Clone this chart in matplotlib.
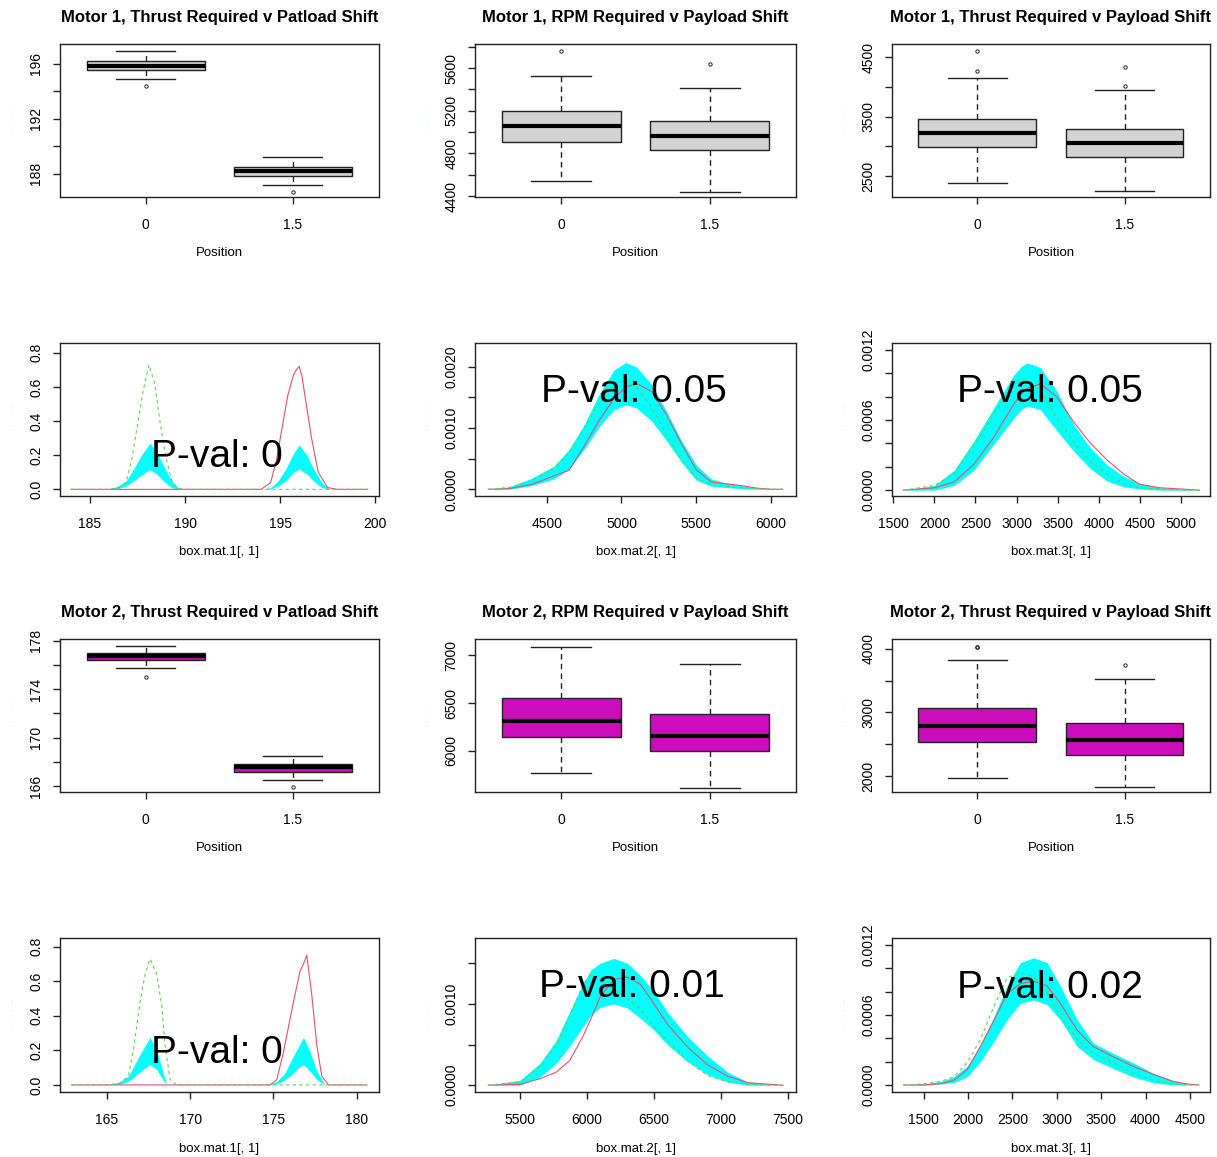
import numpy as np
import matplotlib.pyplot as plt

plt.rcParams['font.family'] = ['Liberation Sans', 'DejaVu Sans']

W, H = 1217, 1157

# boxplot summaries per position (0, 1.5): [whisker low, Q1, median, Q3, whisker high]
m1_thrust = [[194.93, 195.54, 195.88, 196.20, 196.95], [187.20, 187.81, 188.17, 188.49, 189.22]]
m1_thrust_out = [[194.40], [186.66]]
m1_rpm = [[4541, 4906, 5058, 5200, 5527], [4441, 4830, 4966, 5106, 5409]]
m1_rpm_out = [[5757], [5639]]
m1_thrust3 = [[2377, 2983, 3231, 3460, 4157], [2239, 2823, 3052, 3288, 3944]]
m1_thrust3_out = [[4269, 4601], [4024, 4332]]
m2_thrust = [[175.76, 176.37, 176.70, 176.99, 177.60], [166.50, 167.17, 167.53, 167.81, 168.45]]
m2_thrust_out = [[175.0], [165.9]]
m2_rpm = [[5767, 6148, 6315, 6549, 7090], [5616, 6000, 6152, 6390, 6910]]
m2_rpm_out = [[], []]
m2_thrust3 = [[1973, 2528, 2780, 3068, 3827], [1822, 2326, 2564, 2841, 3534]]
m2_thrust3_out = [[4031, 4036], [3740]]

positions = ['0', '1.5']

# density estimates, motor 1 thrust
d11_red_x = [184.0, 194.0, 194.5, 194.8, 195.1, 195.4, 195.7, 195.85, 196.0, 196.15, 196.3, 196.65, 197.0, 197.5, 198.0, 199.6]
d11_red_y = [0, 0, 0.04, 0.17, 0.36, 0.55, 0.67, 0.70, 0.72, 0.66, 0.55, 0.30, 0.10, 0.01, 0, 0]
d11_grn_x = [184.0, 186.0, 186.5, 186.9, 187.2, 187.5, 187.8, 188.1, 188.4, 188.7, 189.0, 189.3, 189.6, 190.0, 199.6]
d11_grn_y = [0, 0, 0.01, 0.04, 0.18, 0.38, 0.58, 0.73, 0.62, 0.38, 0.18, 0.05, 0.005, 0, 0]
d11_band_x = [184.0, 186.0, 186.5, 186.9, 187.3, 187.7, 188.15, 188.5, 188.9, 189.3, 189.7,
              194.0, 194.5, 194.9, 195.3, 195.7, 196.0, 196.4, 196.8, 197.2, 197.6, 199.6]
d11_band_hi = [0, 0, 0.02, 0.05, 0.12, 0.20, 0.27, 0.22, 0.13, 0.05, 0,
               0, 0.01, 0.05, 0.12, 0.21, 0.26, 0.20, 0.11, 0.04, 0, 0]
d11_band_lo = [0, 0, 0.005, 0.02, 0.05, 0.085, 0.115, 0.09, 0.045, 0.01, 0,
               0, 0.003, 0.02, 0.05, 0.10, 0.12, 0.09, 0.045, 0.01, 0, 0]

# motor 1 rpm
d12_x = [4110, 4250, 4400, 4550, 4650, 4750, 4850, 4950, 5030, 5100, 5200, 5300, 5400, 5500, 5600, 5700, 5800, 5900, 6000, 6078]
d12_red = [0, 0.00001, 0.00008, 0.00022, 0.00031, 0.0007, 0.00112, 0.00148, 0.00167, 0.00173, 0.00160, 0.00122,
           0.00075, 0.00032, 0.00012, 0.00009, 0.00006, 0.00002, 0, 0]
d12_grn = [0, 0.00003, 0.00014, 0.00035, 0.0006, 0.0010, 0.00140, 0.00173, 0.00178, 0.00168, 0.00135, 0.00090,
           0.00048, 0.00018, 0.00008, 0.00005, 0.00003, 0.00001, 0, 0]
d12_hi = [0, 0.00004, 0.00018, 0.00038, 0.00065, 0.00105, 0.00155, 0.00195, 0.00207, 0.00200, 0.00172, 0.00128,
          0.00080, 0.00040, 0.00017, 0.00010, 0.00006, 0.00002, 0, 0]
d12_lo = [0, 0, 0.00006, 0.00017, 0.00033, 0.00065, 0.00102, 0.00130, 0.00138, 0.00133, 0.00112, 0.00080,
          0.00045, 0.00015, 0.00005, 0.00003, 0.00001, 0, 0, 0]

# motor 1 thrust (third column)
d13_x = [1621, 2000, 2240, 2480, 2720, 2970, 3060, 3130, 3290, 3490, 3690, 3890, 4100, 4300, 4500, 4750, 5000, 5226]
d13_red = [0, 0.00002, 0.00007, 0.00022, 0.00045, 0.00074, 0.00082, 0.00087, 0.00091, 0.00080, 0.00059, 0.00041,
           0.00026, 0.00014, 0.00005, 0.00002, 0.00001, 0]
d13_grn = [0, 0.00004, 0.00014, 0.00037, 0.00065, 0.00091, 0.00095, 0.00094, 0.00085, 0.00062, 0.00042, 0.00025,
           0.00014, 0.00006, 0.00002, 0.00001, 0, 0]
d13_hi = [0, 0.00004, 0.00017, 0.00042, 0.00070, 0.00099, 0.00106, 0.00109, 0.00105, 0.00085, 0.00057, 0.00037,
          0.00022, 0.00012, 0.00006, 0.00002, 0.00001, 0]
d13_lo = [0, 0, 0.00004, 0.00017, 0.00039, 0.00062, 0.00069, 0.00072, 0.00069, 0.00051, 0.00034, 0.00019,
          0.00008, 0.00003, 0.00001, 0, 0, 0]

# motor 2 thrust
d21_red_x = [162.9, 174.8, 175.2, 175.6, 176.2, 176.6, 176.8, 177.0, 177.3, 177.6, 177.9, 178.3, 180.6]
d21_red_y = [0, 0, 0.03, 0.19, 0.48, 0.66, 0.70, 0.75, 0.52, 0.23, 0.05, 0, 0]
d21_grn_x = [162.9, 165.0, 165.8, 166.3, 166.6, 167.0, 167.3, 167.6, 168.0, 168.3, 168.5, 168.8, 169.2, 180.6]
d21_grn_y = [0, 0, 0.01, 0.05, 0.2, 0.48, 0.64, 0.73, 0.64, 0.46, 0.23, 0.03, 0, 0]
d21_band_x = [162.9, 165.2, 165.8, 166.3, 166.8, 167.2, 167.6, 168.0, 168.3, 168.6,
              174.6, 175.2, 175.7, 176.1, 176.5, 176.8, 177.2, 177.6, 178.1, 180.6]
d21_band_hi = [0, 0, 0.02, 0.05, 0.14, 0.21, 0.275, 0.20, 0.10, 0,
               0, 0.02, 0.07, 0.15, 0.22, 0.275, 0.19, 0.08, 0, 0]
d21_band_lo = [0, 0, 0.005, 0.02, 0.06, 0.09, 0.118, 0.09, 0.04, 0,
               0, 0.005, 0.03, 0.06, 0.10, 0.118, 0.08, 0.03, 0, 0]

# motor 2 rpm
d22_x = [5263, 5500, 5650, 5770, 5870, 5970, 6030, 6100, 6200, 6300, 6400, 6500, 6600, 6750, 6900, 7050, 7200, 7370, 7462]
d22_red = [0, 0.00001, 0.00008, 0.00016, 0.00030, 0.00060, 0.00082, 0.00109, 0.00130, 0.00133, 0.00124, 0.00100,
           0.00075, 0.00047, 0.00025, 0.00011, 0.00003, 0.00001, 0]
d22_grn = [0, 0.00004, 0.00023, 0.00049, 0.00084, 0.00124, 0.00137, 0.00128, 0.00118, 0.00106, 0.00094, 0.00072,
           0.00055, 0.00030, 0.00012, 0.00004, 0.00001, 0, 0]
d22_hi = [0, 0.00006, 0.00027, 0.00055, 0.00090, 0.00125, 0.00142, 0.00150, 0.00156, 0.00150, 0.00135, 0.00115,
          0.00090, 0.00060, 0.00036, 0.00016, 0.00004, 0.00001, 0]
d22_lo = [0, 0, 0.00010, 0.00027, 0.00048, 0.00072, 0.00086, 0.00096, 0.00100, 0.00095, 0.00082, 0.00068,
          0.00050, 0.00029, 0.00013, 0.00004, 0, 0, 0]

# motor 2 thrust (third column)
d23_x = [1275, 1500, 1690, 1840, 1990, 2140, 2290, 2440, 2590, 2740, 2890, 3040, 3230, 3410, 3640, 3860, 4090, 4310, 4460, 4600]
d23_red = [0, 0, 0.00001, 0.00004, 0.00013, 0.00033, 0.00055, 0.00078, 0.00087, 0.00089, 0.00085, 0.00070,
           0.00047, 0.00033, 0.00024, 0.00016, 0.00009, 0.00003, 0.00001, 0]
d23_grn = [0, 0.00001, 0.00003, 0.00007, 0.00019, 0.00039, 0.00067, 0.00092, 0.00096, 0.00093, 0.00079, 0.00059,
           0.00039, 0.00027, 0.00019, 0.00010, 0.00004, 0.00001, 0, 0]
d23_hi = [0, 0.00001, 0.00003, 0.00007, 0.00016, 0.00034, 0.00058, 0.00085, 0.00105, 0.00109, 0.00105, 0.00085,
          0.00056, 0.00036, 0.00027, 0.00019, 0.00010, 0.00004, 0.00001, 0]
d23_lo = [0, 0, 0.00001, 0.00002, 0.00007, 0.00020, 0.00037, 0.00056, 0.00070, 0.00073, 0.00069, 0.00056,
          0.00033, 0.00022, 0.00014, 0.00007, 0.00002, 0, 0, 0]

EDGE = '#222222'


def axes_at(left, top, right, bottom):
    return fig.add_axes([left / W, 1 - bottom / H, (right - left) / W, (bottom - top) / H])


def style(ax, xlabel, ylabel_dots):
    for s in ax.spines.values():
        s.set_linewidth(1.0)
        s.set_color(EDGE)
    ax.tick_params(axis='x', direction='out', length=5, width=1.0, labelsize=10, pad=10, color=EDGE)
    ax.tick_params(axis='y', direction='out', length=5, width=1.0, labelsize=10, pad=7, color=EDGE)
    ax.set_xlabel(xlabel, fontsize=9.5)
    ax.xaxis.set_label_coords(0.5, -0.33)
    ax.set_ylabel(ylabel_dots, color='#b4f5f5', fontsize=6)
    ax.yaxis.set_label_coords(-0.14, 0.5)


def set_yticks(ax, ticks, labels):
    ax.set_yticks(ticks)
    ax.set_yticklabels(labels, rotation=90, va='center')


def box_panel(ax, stats, outliers, fill, title, ylim, yticks, ylabels):
    rows = []
    for s, o in zip(stats, outliers):
        rows.append(dict(whislo=s[0], q1=s[1], med=s[2], q3=s[3], whishi=s[4], fliers=o))
    ax.bxp(rows, positions=[1, 2], widths=0.8, patch_artist=True,
           boxprops=dict(facecolor=fill, edgecolor=EDGE, linewidth=1.0),
           medianprops=dict(color='black', linewidth=3.0, solid_capstyle='butt'),
           whiskerprops=dict(color=EDGE, linewidth=1.0, linestyle=(0, (4, 3))),
           capprops=dict(color=EDGE, linewidth=1.0),
           flierprops=dict(marker='o', markerfacecolor='none', markeredgecolor=EDGE,
                           markersize=2.4, markeredgewidth=0.7))
    ax.set_xlim(0.42, 2.58)
    ax.set_ylim(*ylim)
    ax.set_xticks([1, 2], positions)
    set_yticks(ax, yticks, ylabels)
    ax.set_title(title, fontsize=12, fontweight='bold', pad=16)
    style(ax, 'Position', '. . . . . . .')


def dens_panel(ax, band, red, grn, pval, pos, xlim, ylim, xticks, yticks, ylabels, xlabel):
    ax.fill_between(band[0], band[2], band[1], color='#00FFFF', linewidth=0)
    ax.plot(red[0], red[1], color='#DF536B', lw=0.8)
    ax.plot(grn[0], grn[1], color='#61D04F', lw=0.8, ls=(0, (3, 3)))
    ax.set_xlim(*xlim)
    ax.set_ylim(*ylim)
    ax.set_xticks(xticks)
    set_yticks(ax, yticks, ylabels)
    ax.text(pos[0], pos[1], 'P-val: ' + pval, transform=ax.transAxes, ha='center', va='baseline', fontsize=28)
    style(ax, xlabel, '. . . . . . ,')


fig = plt.figure(figsize=(W / 100, H / 100), dpi=100)

cols = [(60, 378.5), (475, 796), (892, 1210)]
rows = [(44, 197), (343, 496), (639, 792), (938, 1092)]

gray = '#D3D3D3'
mag = '#CD0CBB'

# motor 1 boxplots
box_panel(axes_at(cols[0][0], rows[0][0], cols[0][1], rows[0][1]), m1_thrust, m1_thrust_out, gray,
          'Motor 1, Thrust Required v Patload Shift', (186.3, 197.45),
          [188, 190, 192, 194, 196], ['188', '', '192', '', '196'])
box_panel(axes_at(cols[1][0], rows[0][0], cols[1][1], rows[0][1]), m1_rpm, m1_rpm_out, gray,
          'Motor 1, RPM Required v Payload Shift', (4391, 5825),
          list(range(4400, 5801, 200)), ['4400', '', '4800', '', '5200', '', '5600', ''])
box_panel(axes_at(cols[2][0], rows[0][0], cols[2][1], rows[0][1]), m1_thrust3, m1_thrust3_out, gray,
          'Motor 1, Thrust Required v Payload Shift', (2146, 4724),
          [2500, 3000, 3500, 4000, 4500], ['2500', '', '3500', '', '4500'])

# motor 1 densities
dens_panel(axes_at(cols[0][0], rows[1][0], cols[0][1], rows[1][1]),
           (d11_band_x, d11_band_hi, d11_band_lo), (d11_red_x, d11_red_y), (d11_grn_x, d11_grn_y),
           '0', (0.493, 0.19), (183.42, 200.17), (-0.039, 0.857), [185, 190, 195, 200],
           [0, 0.2, 0.4, 0.6, 0.8], ['0.0', '0.2', '0.4', '0.6', '0.8'], 'box.mat.1[, 1]')
dens_panel(axes_at(cols[1][0], rows[1][0], cols[1][1], rows[1][1]),
           (d12_x, d12_hi, d12_lo), (d12_x, d12_red), (d12_x, d12_grn),
           '0.05', (0.495, 0.614), (4021, 6167), (-0.00011, 0.00239), [4500, 5000, 5500, 6000],
           [0, 0.0005, 0.001, 0.0015, 0.002], ['0.0000', '', '0.0010', '', '0.0020'], 'box.mat.2[, 1]')
dens_panel(axes_at(cols[2][0], rows[1][0], cols[2][1], rows[1][1]),
           (d13_x, d13_hi, d13_lo), (d13_x, d13_red), (d13_x, d13_grn),
           '0.05', (0.497, 0.614), (1484, 5356), (-0.00005, 0.00126), list(range(1500, 5001, 500)),
           [0, 0.0002, 0.0004, 0.0006, 0.0008, 0.001, 0.0012],
           ['0.0000', '', '', '0.0006', '', '', '0.0012'], 'box.mat.3[, 1]')

# motor 2 boxplots
box_panel(axes_at(cols[0][0], rows[2][0], cols[0][1], rows[2][1]), m2_thrust, m2_thrust_out, mag,
          'Motor 2, Thrust Required v Patload Shift', (165.5, 178.14),
          list(range(166, 179, 2)), ['166', '', '170', '', '174', '', '178'])
box_panel(axes_at(cols[1][0], rows[2][0], cols[1][1], rows[2][1]), m2_rpm, m2_rpm_out, mag,
          'Motor 2, RPM Required v Payload Shift', (5571, 7171),
          [6000, 6500, 7000], ['6000', '6500', '7000'])
box_panel(axes_at(cols[2][0], rows[2][0], cols[2][1], rows[2][1]), m2_thrust3, m2_thrust3_out, mag,
          'Motor 2, Thrust Required v Payload Shift', (1748, 4157),
          [2000, 2500, 3000, 3500, 4000], ['2000', '', '3000', '', '4000'])

# motor 2 densities
dens_panel(axes_at(cols[0][0], rows[3][0], cols[0][1], rows[3][1]),
           (d21_band_x, d21_band_hi, d21_band_lo), (d21_red_x, d21_red_y), (d21_grn_x, d21_grn_y),
           '0', (0.492, 0.19), (162.2, 181.3), (-0.041, 0.85), [165, 170, 175, 180],
           [0, 0.2, 0.4, 0.6, 0.8], ['0.0', '0.2', '0.4', '0.6', '0.8'], 'box.mat.1[, 1]')
dens_panel(axes_at(cols[1][0], rows[3][0], cols[1][1], rows[3][1]),
           (d22_x, d22_hi, d22_lo), (d22_x, d22_red), (d22_x, d22_grn),
           '0.01', (0.488, 0.615), (5164, 7560), (-0.000084, 0.00181), list(range(5500, 7501, 500)),
           [0, 0.0005, 0.001, 0.0015], ['0.0000', '', '0.0010', ''], 'box.mat.2[, 1]')
dens_panel(axes_at(cols[2][0], rows[3][0], cols[2][1], rows[3][1]),
           (d23_x, d23_hi, d23_lo), (d23_x, d23_red), (d23_x, d23_grn),
           '0.02', (0.497, 0.608), (1145, 4725), (-0.00006, 0.00126), list(range(1500, 4501, 500)),
           [0, 0.0002, 0.0004, 0.0006, 0.0008, 0.001, 0.0012],
           ['0.0000', '', '', '0.0006', '', '', '0.0012'], 'box.mat.3[, 1]')

fig.savefig('out.png', dpi=100)
